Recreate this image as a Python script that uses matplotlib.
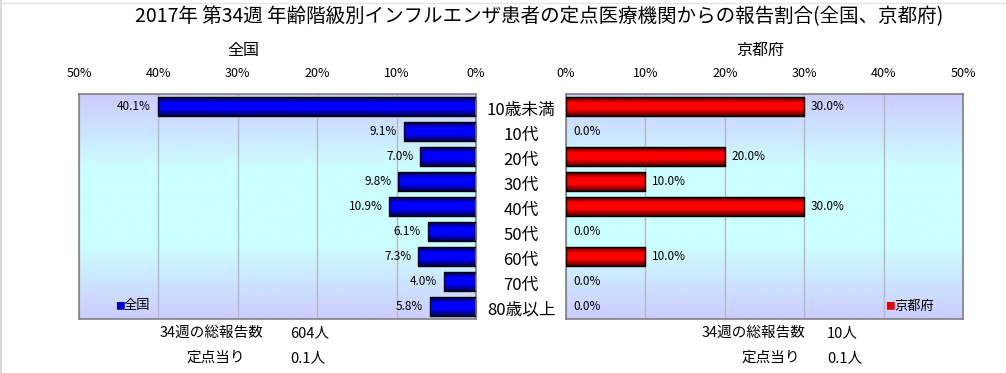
import numpy as np
import matplotlib
matplotlib.use("Agg")
import matplotlib.pyplot as plt
from matplotlib.colors import LinearSegmentedColormap

plt.rcParams['font.family'] = ['Noto Sans CJK JP', 'DejaVu Sans']

# データ
categories = ["10歳未満", "10代", "20代", "30代", "40代", "50代", "60代", "70代", "80歳以上"]
national = [40.1, 9.1, 7.0, 9.8, 10.9, 6.1, 7.3, 4.0, 5.8]
kyoto = [30.0, 0.0, 20.0, 10.0, 30.0, 0.0, 10.0, 0.0, 0.0]
ticks = [0, 10, 20, 30, 40, 50]
tick_labels = ["0%", "10%", "20%", "30%", "40%", "50%"]
total_reports = ["604人", "10人"]
per_site = ["0.1人", "0.1人"]

fig = plt.figure(figsize=(10.06, 3.73), dpi=100)

# 背景グラデーション(上下: ラベンダー, 中央: 水色)
bg_cmap = LinearSegmentedColormap.from_list("bg", ["#ccccff", "#ccffff", "#ccffff", "#ccccff"])
bg = np.linspace(0, 1, 256).reshape(-1, 1)
blue_cmap = LinearSegmentedColormap.from_list("b", ["#000020", "#0000ff", "#0000ff", "#000050"])
red_cmap = LinearSegmentedColormap.from_list("r", ["#200000", "#ff0000", "#ff0000", "#500000"])
bar_grad = np.linspace(0, 1, 64).reshape(-1, 1)


def draw_panel(ax, values, cmap, reverse):
    ax.imshow(bg, cmap=bg_cmap, aspect='auto', extent=(0, 1, 0, 1),
              transform=ax.transAxes, zorder=0)
    y = np.arange(len(values))
    bars = ax.barh(y, values, height=0.78, facecolor='none', edgecolor='black',
                   linewidth=1.0, zorder=3)
    for b in bars:
        if b.get_width() <= 0:
            b.set_visible(False)
            continue
        x0, y0 = b.get_x(), b.get_y()
        im = ax.imshow(bar_grad, cmap=cmap, aspect='auto', zorder=2,
                       extent=(x0, x0 + b.get_width(), y0 + b.get_height(), y0))
        im.set_clip_path(b)
    for yi, v in zip(y, values):
        ax.annotate("%.1f%%" % v, (v, yi), xytext=(-5 if reverse else 5, 0),
                    textcoords='offset points', ha='right' if reverse else 'left',
                    va='center', fontsize=8.5, zorder=4)
    ax.set_ylim(len(values) - 0.5, -0.5)
    if reverse:
        ax.set_xlim(50, 0)
    else:
        ax.set_xlim(0, 50)
    ax.set_xticks(ticks)
    ax.set_xticklabels(tick_labels, fontsize=9)
    ax.xaxis.tick_top()
    ax.tick_params(axis='x', length=0, pad=10)
    ax.set_yticks([])
    ax.grid(axis='x', color='#b8b8b8', linewidth=1.0, zorder=1)
    ax.set_axisbelow(True)
    for s in ax.spines.values():
        s.set_color('#808080')
        s.set_linewidth(1.2)


ax1 = fig.add_axes([79 / 1006, 1 - 319 / 373, 397 / 1006, 225 / 373])
ax2 = fig.add_axes([566 / 1006, 1 - 319 / 373, 397 / 1006, 225 / 373])
draw_panel(ax1, national, blue_cmap, True)
draw_panel(ax2, kyoto, red_cmap, False)

# カテゴリラベル(中央)
for i, c in enumerate(categories):
    fig.text(521 / 1006, 1 - (110 + 25 * i) / 373, c, ha='center', va='center', fontsize=12)

# 凡例
fig.text(115 / 1006, 1 - 306 / 373, "■", color='#0000cc', ha='left', va='center', fontsize=7)
fig.text(124 / 1006, 1 - 306 / 373, "全国", ha='left', va='center', fontsize=9.5)
fig.text(885 / 1006, 1 - 306 / 373, "■", color='#ee0000', ha='left', va='center', fontsize=7)
fig.text(894 / 1006, 1 - 306 / 373, "京都府", ha='left', va='center', fontsize=9.5)

# タイトル
fig.text(539 / 1006, 1 - 17 / 373, "2017年 第34週 年齢階級別インフルエンザ患者の定点医療機関からの報告割合(全国、京都府)",
         ha='center', va='center', fontsize=14)
fig.text(243 / 1006, 1 - 50 / 373, "全国", ha='center', va='center', fontsize=11.5)
fig.text(760 / 1006, 1 - 50 / 373, "京都府", ha='center', va='center', fontsize=11.5)

# 下部テキスト
fig.text(263 / 1006, 1 - 333 / 373, "34週の総報告数", ha='right', va='center', fontsize=10.5)
fig.text(290 / 1006, 1 - 333 / 373, total_reports[0], ha='left', va='center', fontsize=10.5)
fig.text(245 / 1006, 1 - 358 / 373, "定点当り", ha='right', va='center', fontsize=10.5)
fig.text(290 / 1006, 1 - 358 / 373, per_site[0], ha='left', va='center', fontsize=10.5)
fig.text(805 / 1006, 1 - 333 / 373, "34週の総報告数", ha='right', va='center', fontsize=10.5)
fig.text(827 / 1006, 1 - 333 / 373, total_reports[1], ha='left', va='center', fontsize=10.5)
fig.text(800 / 1006, 1 - 358 / 373, "定点当り", ha='right', va='center', fontsize=10.5)
fig.text(827 / 1006, 1 - 358 / 373, per_site[1], ha='left', va='center', fontsize=10.5)

# 外枠(左・上の薄い線)
fig.add_artist(plt.Line2D([0.5 / 1006, 0.5 / 1006], [0, 1], color='#d8d8d8', lw=1.5))
fig.add_artist(plt.Line2D([0, 1], [1 - 3 / 373, 1 - 3 / 373], color='#e4e4e4', lw=1))

fig.savefig("out.png", dpi=100)
